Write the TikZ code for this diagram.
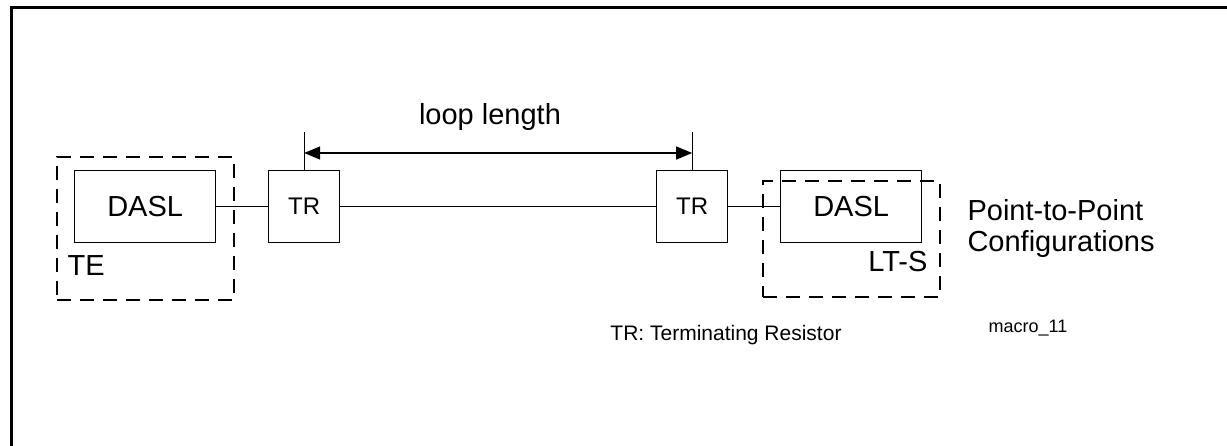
\documentclass[tikz,border=0pt]{standalone}
\usepackage{fontspec}
\setmainfont{Liberation Sans}
\usetikzlibrary{arrows.meta}
\begin{document}
\begin{tikzpicture}[x=1pt,y=-1pt,
  box/.style={draw,line width=1.3pt,inner sep=0pt,anchor=north west},
  dbox/.style={draw,line width=1.8pt,dash pattern=on 14pt off 9pt,inner sep=0pt,anchor=north west},
  wire/.style={line width=1.3pt},
  big/.style={font=\fontsize{29}{33}\selectfont},
  mid/.style={font=\fontsize{24}{28}\selectfont},
  small/.style={font=\fontsize{21}{25}\selectfont},
  tiny/.style={font=\fontsize{18}{22}\selectfont}]
\useasboundingbox (0,0) rectangle (1227,445);
\draw[line width=3pt] (11,460) -- (11,7) -- (1240,7);
% dashed enclosures
\node[dbox,minimum width=177pt,minimum height=143pt] (te) at (56,156) {};
\node[dbox,minimum width=177pt,minimum height=116pt] (lts) at (762,180) {};
% boxes
\node[box,minimum width=141pt,minimum height=72pt,big] (dasl1) at (74,170) {DASL};
\node[box,minimum width=71pt,minimum height=72pt,mid] (tr1) at (268,170) {TR};
\node[box,minimum width=71pt,minimum height=72pt,mid] (tr2) at (656,170) {TR};
\node[box,minimum width=141pt,minimum height=72pt,big] (dasl2) at (780,170) {DASL};
% labels
\node[big,anchor=west] (telbl) at (64,266) {TE};
\node[big,anchor=east] (ltslbl) at (931,262) {LT-S};
\node[anchor=west,align=left,font=\fontsize{29}{31}\selectfont] (ptp) at (964,228) {Point-to-Point\\Configurations};
\node[small] (trnote) at (726,335) {TR: Terminating Resistor};
\node[tiny] (macro) at (1028,328) {macro\_11};
\node[big] (loop) at (490,117) {loop length};
% wires
\draw[wire] (dasl1.east) -- (tr1.west);
\draw[wire] (tr1.east) -- (tr2.west);
\draw[wire] (tr2.east) -- (dasl2.west);
% dimension line
\coordinate (t1) at ([yshift=38pt]tr1.north);
\coordinate (t2) at ([yshift=38pt]tr2.north);
\draw[wire] (tr1.north) -- (t1);
\draw[wire] (tr2.north) -- (t2);
\draw[wire,{Triangle[length=16pt,width=13pt]}-{Triangle[length=16pt,width=13pt]}]
  ([yshift=17pt]tr1.north) -- ([yshift=17pt]tr2.north);
\end{tikzpicture}
\end{document}
